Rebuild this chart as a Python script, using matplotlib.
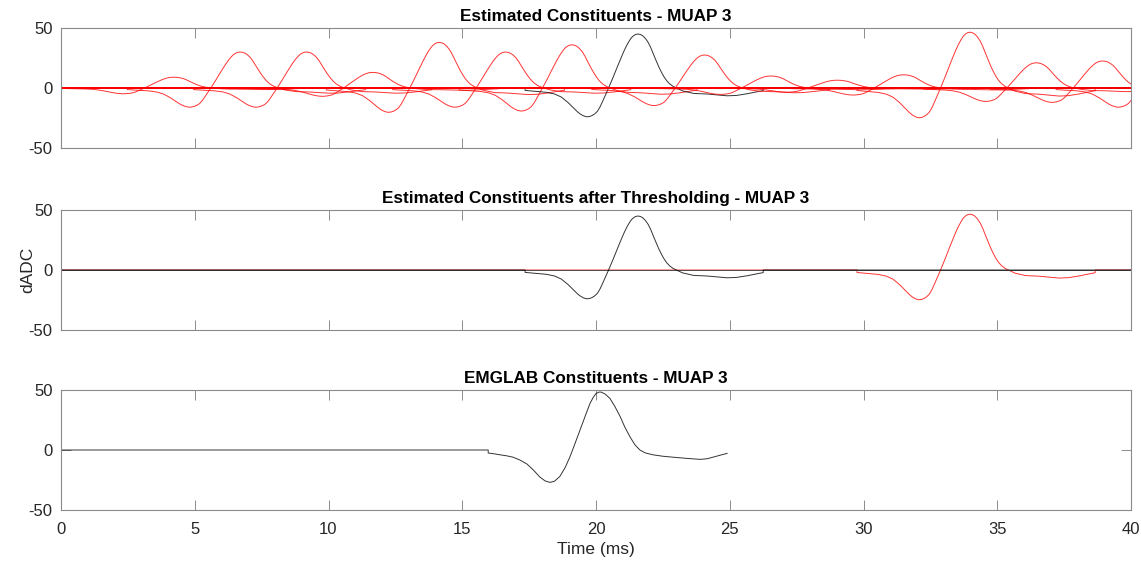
import numpy as np
import matplotlib
matplotlib.use("Agg")
import matplotlib.pyplot as plt

plt.rcParams['font.family'] = ['Liberation Sans', 'DejaVu Sans']
plt.rcParams['axes.unicode_minus'] = False

# MUAP shape (offset from segment start in ms, dADC at peak 45)
tmpl_t = [0.00, 0.40, 0.80, 1.10, 1.35, 1.60, 1.85, 1.95, 2.05, 2.18, 2.30, 2.40,
          2.50, 2.60, 2.70, 2.80, 2.90, 3.00, 3.10, 3.20, 3.30, 3.40, 3.50, 3.60,
          3.70, 3.80, 3.90, 3.97, 4.05, 4.13, 4.22, 4.31, 4.40, 4.50, 4.60, 4.70,
          4.80, 4.90, 5.00, 5.10, 5.20, 5.30, 5.40, 5.52, 5.65, 5.90, 6.30, 6.80,
          7.20, 7.55, 7.90, 8.30, 8.70, 8.90]
tmpl_v = [-2.0, -2.8, -3.6, -5.0, -7.5, -12.0, -17.5, -19.7, -21.5, -23.2, -24.0, -23.8,
          -23.0, -21.6, -19.5, -15.8, -11.0, -6.0, -1.0, 4.2, 9.5, 15.0, 20.5, 25.8,
          31.0, 35.6, 39.5, 41.8, 43.5, 44.6, 45.0, 44.6, 43.5, 41.2, 38.0, 33.5,
          28.0, 22.7, 17.5, 13.0, 9.0, 5.9, 3.5, 1.5, 0.0, -2.5, -4.5, -5.0,
          -5.8, -6.5, -6.2, -4.8, -3.0, -2.2]
tmpl_peak = 45.0

# estimated constituents: segment start (ms) and peak amplitude (dADC)
seg_start = [0.00, 2.48, 4.96, 7.44, 9.92, 12.40, 14.88, 17.35,
             19.84, 22.32, 24.80, 27.28, 29.76, 32.24, 34.72, 37.20]
seg_peak = [9.0, 30.0, 30.0, 13.0, 38.0, 30.0, 36.0, 45.0,
            27.5, 10.0, 6.5, 11.0, 46.5, 21.0, 22.5, 30.0]
kept_black = 7      # constituent that matches the EMGLAB one
kept_red = 12       # second one kept after thresholding

# EMGLAB constituent (absolute time ms, dADC)
emg_t = [0.0, 15.97, 15.97, 16.20, 16.41, 16.65, 16.90, 17.15, 17.42, 17.65, 17.90,
         18.10, 18.28, 18.45, 18.65, 18.85, 19.03, 19.20, 19.40, 19.60, 19.78, 19.90,
         20.00, 20.10, 20.19, 20.35, 20.52, 20.70, 20.90, 21.08, 21.27, 21.45, 21.64,
         21.85, 22.13, 22.50, 22.88, 23.40, 23.89, 24.15, 24.37, 24.65, 24.90]
emg_v = [0.0, 0.0, -2.5, -3.2, -4.0, -4.8, -6.0, -8.3, -11.7, -16.5, -22.5,
         -25.8, -27.0, -26.0, -22.0, -14.5, -5.5, 4.5, 16.5, 28.5, 39.0, 44.0,
         47.0, 48.2, 48.3, 46.5, 43.0, 36.5, 28.0, 19.0, 11.0, 4.5, 0.0,
         -2.5, -4.0, -5.2, -6.0, -7.0, -7.8, -7.3, -6.0, -4.3, -2.8]

T_END = 40.0


def constituent(k):
    s = seg_start[k]
    g = seg_peak[k] / tmpl_peak
    t = [0.0, s] + [s + o for o in tmpl_t] + [s + tmpl_t[-1], T_END]
    v = [0.0, 0.0] + [g * x for x in tmpl_v] + [0.0, 0.0]
    return np.array(t), np.array(v)


def matlab_axes(ax, xlabels=False):
    ax.set_xlim(0, 40)
    ax.set_ylim(-50, 50)
    ax.set_xticks(np.arange(0, 41, 5))
    ax.set_yticks([-50, 0, 50])
    ax.tick_params(direction='in', length=7, width=0.6, top=True, right=True,
                   colors='#7a7a7a', labelcolor='#262626', labelsize=12,
                   labelbottom=xlabels, pad=6)
    ax.tick_params(axis='x', pad=9)
    for sp in ax.spines.values():
        sp.set_color('#8a8a8a')
        sp.set_linewidth(0.8)


fig = plt.figure(figsize=(11.41, 5.65), dpi=100)
L, W, H = 61/1141, 1070/1141, 120/565
ax1 = fig.add_axes([L, 1 - 148/565, W, H])
ax2 = fig.add_axes([L, 1 - 330/565, W, H])
ax3 = fig.add_axes([L, 1 - 510/565, W, H])

# top: all estimated constituents
for k in range(len(seg_start)):
    t, v = constituent(k)
    c = 'k' if k == kept_black else 'r'
    ax1.plot(t, v, color=c, lw=0.7, alpha=0.8)
ax1.set_title('Estimated Constituents - MUAP 3', fontsize=12.3, fontweight='bold', pad=5)
matlab_axes(ax1)

# middle: after thresholding, the rejected constituents are all zero
t, v = constituent(kept_red)
ax2.plot(t, v, color='r', lw=0.7, alpha=0.8)
for k in range(len(seg_start)):
    if k not in (kept_black, kept_red):
        ax2.plot([0.0, T_END], [0.0, 0.0], color='#505050', lw=0.7)
t, v = constituent(kept_black)
ax2.plot(t, v, color='k', lw=0.7, alpha=0.8)
ax2.set_title('Estimated Constituents after Thresholding - MUAP 3', fontsize=12.3,
              fontweight='bold', pad=5)
ax2.set_ylabel('dADC', fontsize=12.5, color='#262626')
ax2.yaxis.set_label_coords(-0.024, 0.5)
matlab_axes(ax2)

# bottom: EMGLAB
ax3.plot(emg_t, emg_v, color='k', lw=0.7, alpha=0.8)
ax3.set_title('EMGLAB Constituents - MUAP 3', fontsize=12.3, fontweight='bold', pad=5)
ax3.set_xlabel('Time (ms)', fontsize=12.5, color='#262626', labelpad=3)
matlab_axes(ax3, xlabels=True)

fig.savefig('out.png', dpi=100)
